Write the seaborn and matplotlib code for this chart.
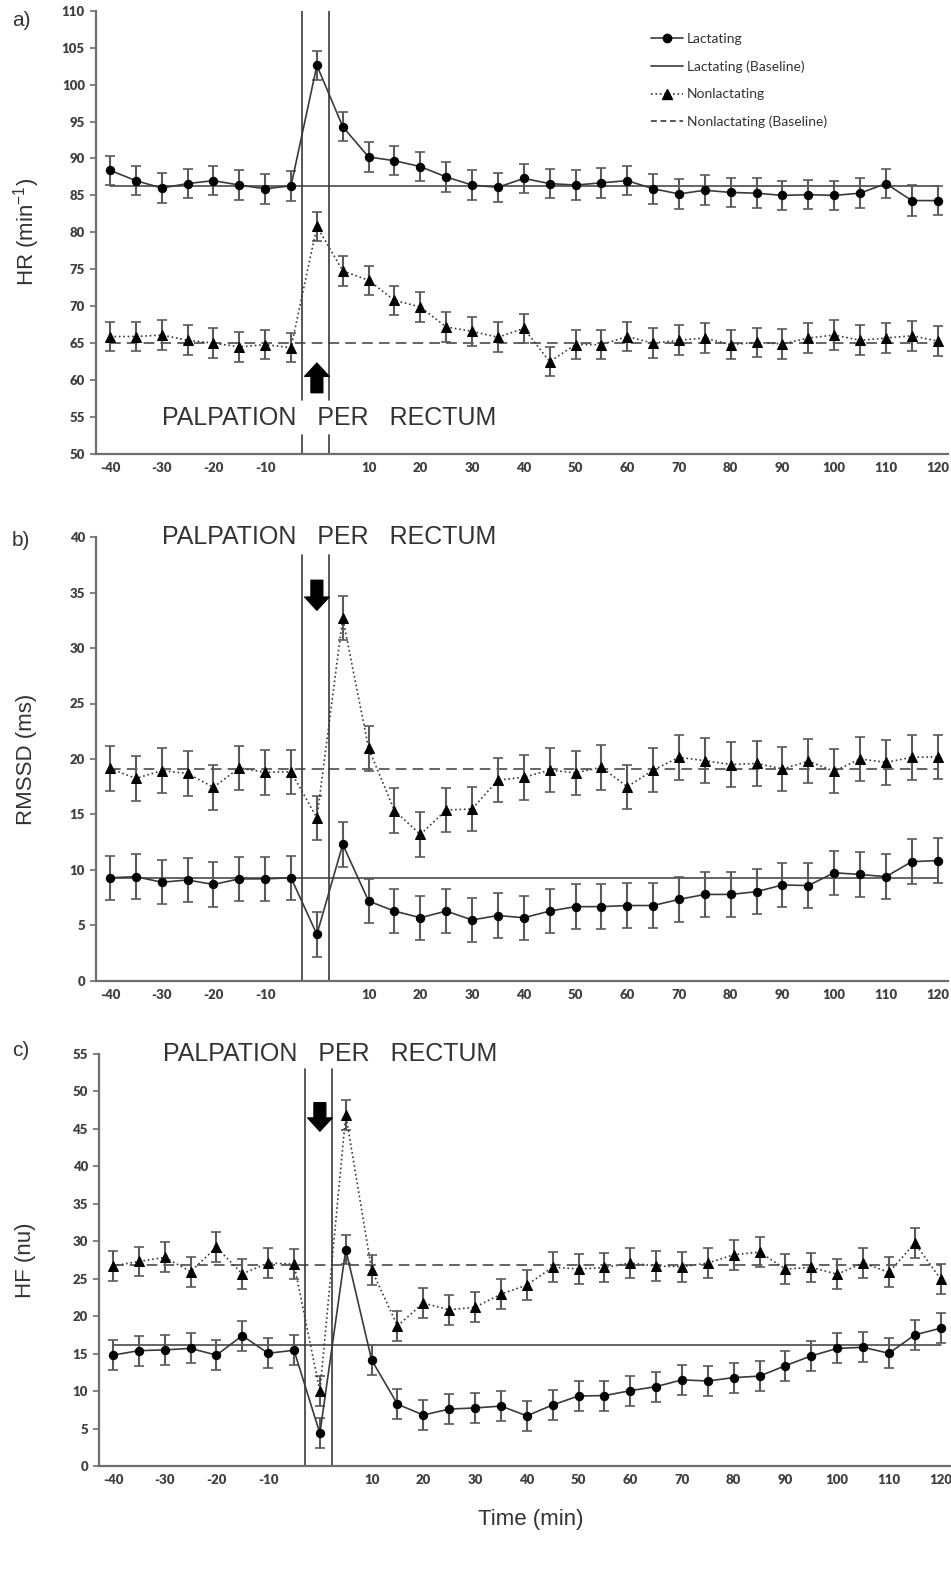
import numpy as np
import pandas as pd
import seaborn as sns
import matplotlib
matplotlib.use("Agg")
import matplotlib.pyplot as plt
from matplotlib.lines import Line2D

# ---------------- data ----------------
time = [-40, -35, -30, -25, -20, -15, -10, -5, 0, 5, 10, 15, 20, 25, 30, 35, 40,
        45, 50, 55, 60, 65, 70, 75, 80, 85, 90, 95, 100, 105, 110, 115, 120]
xtick_values = [-40, -30, -20, -10, 10, 20, 30, 40, 50, 60, 70, 80, 90, 100, 110, 120]

hr_lact = [88.4, 87.0, 86.0, 86.6, 87.0, 86.4, 85.9, 86.3, 102.6, 94.3, 90.2, 89.7, 88.9,
           87.5, 86.4, 86.1, 87.3, 86.6, 86.4, 86.7, 87.0, 85.9, 85.2, 85.7, 85.4, 85.3,
           85.0, 85.1, 85.0, 85.3, 86.6, 84.3, 84.3]
hr_lact_se = [2.0, 2.0, 2.0, 2.0, 2.0, 2.0, 2.0, 2.0, 2.0, 2.0, 2.0, 2.0, 2.0, 2.0, 2.0, 2.0, 2.0,
              2.0, 2.0, 2.0, 2.0, 2.0, 2.0, 2.0, 2.0, 2.0, 2.0, 2.0, 2.0, 2.0, 2.0, 2.1, 2.0]
hr_non = [65.9, 65.9, 66.1, 65.4, 65.0, 64.5, 64.8, 64.4, 80.8, 74.8, 73.5, 70.8, 69.9,
          67.2, 66.6, 65.8, 67.0, 62.5, 64.8, 64.8, 65.9, 65.0, 65.4, 65.7, 64.8, 65.1,
          64.9, 65.7, 66.1, 65.4, 65.7, 66.0, 65.3]
hr_non_se = [2.0, 2.0, 2.0, 2.0, 2.0, 2.0, 2.0, 2.0, 2.0, 2.0, 2.0, 2.0, 2.0, 2.0, 2.0, 2.0, 2.0,
             2.0, 2.0, 2.0, 2.0, 2.0, 2.0, 2.0, 2.0, 2.0, 2.0, 2.0, 2.0, 2.0, 2.0, 2.0, 2.0]
hr_lact_base = 86.3
hr_non_base = 65.0

rmssd_lact = [9.3, 9.4, 8.9, 9.1, 8.7, 9.2, 9.2, 9.3, 4.2, 12.3, 7.2, 6.3, 5.7, 6.3, 5.5,
              5.9, 5.7, 6.3, 6.7, 6.7, 6.8, 6.8, 7.35, 7.8, 7.8, 8.05, 8.65, 8.6, 9.75, 9.6,
              9.4, 10.75, 10.85]
rmssd_lact_se = [2.0, 2.0, 2.0, 2.0, 2.0, 2.0, 2.0, 2.0, 2.0, 2.0, 2.0, 2.0, 2.0, 2.0, 2.0, 2.0, 2.0,
                 2.0, 2.0, 2.0, 2.0, 2.0, 2.0, 2.0, 2.0, 2.0, 2.0, 2.0, 2.0, 2.0, 2.0, 2.0, 2.0]
rmssd_non = [19.15, 18.25, 18.95, 18.7, 17.45, 19.2, 18.8, 18.85, 14.7, 32.7, 20.95, 15.35,
             13.2, 15.4, 15.5, 18.1, 18.35, 19.0, 18.75, 19.25, 17.5, 19.0, 20.15, 19.85,
             19.5, 19.6, 19.1, 19.8, 18.9, 20.0, 19.7, 20.15, 20.2]
rmssd_non_se = [2.0, 2.0, 2.0, 2.0, 2.0, 2.0, 2.0, 2.0, 2.0, 2.0, 2.0, 2.0, 2.0, 2.0, 2.0, 2.0, 2.0,
                2.0, 2.0, 2.0, 2.0, 2.0, 2.0, 2.0, 2.0, 2.0, 2.0, 2.0, 2.0, 2.0, 2.0, 2.0, 2.0]
rmssd_lact_base = 9.3
rmssd_non_base = 19.1

hf_lact = [14.8, 15.4, 15.5, 15.7, 14.8, 17.4, 15.05, 15.45, 4.35, 28.9, 14.15, 8.25, 6.8,
           7.6, 7.75, 8.0, 6.7, 8.15, 9.35, 9.4, 10.05, 10.6, 11.5, 11.35, 11.8, 12.0, 13.4,
           14.7, 15.7, 15.85, 15.05, 17.5, 18.4]
hf_lact_se = [2.0, 2.0, 2.0, 2.0, 2.0, 2.0, 2.0, 2.0, 2.0, 2.0, 2.0, 2.0, 2.0, 2.0, 2.0, 2.0, 2.0,
              2.0, 2.0, 2.0, 2.0, 2.0, 2.0, 2.0, 2.0, 2.0, 2.0, 2.0, 2.0, 2.0, 2.0, 2.0, 2.0]
hf_non = [26.7, 27.3, 27.85, 25.95, 29.2, 25.65, 27.1, 26.95, 10.0, 46.9, 26.2, 18.7, 21.75,
          20.85, 21.2, 22.95, 24.15, 26.55, 26.3, 26.5, 27.1, 26.7, 26.6, 27.1, 28.2, 28.55,
          26.3, 26.5, 25.6, 27.1, 25.85, 29.75, 24.95]
hf_non_se = [2.0, 2.0, 2.0, 2.0, 2.0, 2.0, 2.0, 2.0, 2.0, 2.0, 2.0, 2.0, 2.0, 2.0, 2.0, 2.0, 2.0,
             2.0, 2.0, 2.0, 2.0, 2.0, 2.0, 2.0, 2.0, 2.0, 2.0, 2.0, 2.0, 2.0, 2.0, 2.0, 2.0]
hf_lact_base = 16.1
hf_non_base = 26.8

panel_letters = ["a)", "b)", "c)"]
ylabels = ["HR (min$^{-1}$)", "RMSSD (ms)", "HF (nu)"]
event_text = "PALPATION   PER   RECTUM"
legend_labels = ["Lactating", "Lactating (Baseline)", "Nonlactating", "Nonlactating (Baseline)"]
xlabel_text = "Time (min)"

# ---------------- style ----------------
sns.set_style("white")
plt.rcParams["font.family"] = ["Liberation Sans", "DejaVu Sans"]
plt.rcParams["mathtext.fontset"] = "custom"
plt.rcParams["mathtext.rm"] = "Liberation Sans"
plt.rcParams["mathtext.it"] = "Liberation Sans"

W, H = 951, 1583
fig = plt.figure(figsize=(W / 100, H / 100), dpi=100)

def frac_box(left, right, top, bottom):
    return [left / W, 1 - bottom / H, (right - left) / W, (bottom - top) / H]

boxes = [frac_box(96, 948, 10.7, 454), frac_box(96, 948, 537, 981), frac_box(99, 951, 1054, 1466)]
ylims = [(50, 110), (0, 40), (0, 55)]
ysteps = [5, 5, 5]
ylabel_x = [-0.063, -0.069, -0.074]

series = [
    (hr_lact, hr_lact_se, hr_non, hr_non_se, hr_lact_base, hr_non_base),
    (rmssd_lact, rmssd_lact_se, rmssd_non, rmssd_non_se, rmssd_lact_base, rmssd_non_base),
    (hf_lact, hf_lact_se, hf_non, hf_non_se, hf_lact_base, hf_non_base),
]

line_col = "#3a3a3a"
err_col = "#5a5a5a"
spine_col = "#6e6e6e"
tick_family = ["Lato", "DejaVu Sans"]

axes = []
for i in range(3):
    ax = fig.add_axes(boxes[i])
    axes.append(ax)
    lact, lact_se, non, non_se, lbase, nbase = series[i]
    df = pd.DataFrame({"time": time, "lact": lact, "non": non})

    # baselines
    ax.plot([time[0], time[-1]], [lbase, lbase], color=line_col, lw=1.1, ls="-", zorder=1)
    ax.plot([time[0], time[-1]], [nbase, nbase], color=line_col, lw=1.1, ls=(0, (7, 4)), zorder=1)

    # error bars
    ax.errorbar(time, lact, yerr=lact_se, fmt="none", ecolor=err_col, elinewidth=1.5,
                capsize=3.5, capthick=1.2, zorder=2)
    ax.errorbar(time, non, yerr=non_se, fmt="none", ecolor=err_col, elinewidth=1.5,
                capsize=3.5, capthick=1.2, zorder=2)

    # series
    sns.lineplot(data=df, x="time", y="lact", ax=ax, color=line_col, lw=1.2,
                 marker="o", markersize=6, markerfacecolor="black", markeredgecolor="black",
                 zorder=3)
    sns.lineplot(data=df, x="time", y="non", ax=ax, color=line_col, lw=1.2, ls=":",
                 marker="^", markersize=6.5, markerfacecolor="black", markeredgecolor="black",
                 zorder=3)

    ax.set_xlim(-42.7, 122)
    ax.set_ylim(*ylims[i])
    ax.set_xticks(xtick_values)
    ax.set_xticklabels([str(v) for v in xtick_values])
    yt = np.arange(ylims[i][0], ylims[i][1] + 0.1, ysteps[i])
    ax.set_yticks(yt)
    ax.set_yticklabels([str(int(v)) for v in yt])
    for lab in ax.get_xticklabels() + ax.get_yticklabels():
        lab.set_fontfamily(tick_family)
        lab.set_fontweight("heavy")
        lab.set_fontsize(9.5)
        lab.set_color("#404040")
    ax.tick_params(axis="x", length=0, pad=6)
    ax.tick_params(axis="y", length=4, width=1.2, color=spine_col, pad=4, left=True)
    for s in ["top", "right"]:
        ax.spines[s].set_visible(False)
    for s in ["left", "bottom"]:
        ax.spines[s].set_color(spine_col)
        ax.spines[s].set_linewidth(1.6)
    ax.set_xlabel("")
    ax.set_ylabel(ylabels[i], fontsize=16, color="#333333")
    ax.yaxis.set_label_coords(ylabel_x[i], 0.5)

    fig.text(12 / W, 1 - [20, 540, 1050][i] / H, panel_letters[i], fontsize=15,
             color="#333333", va="center", ha="left")

# event markers, text and arrows
vx = [-2.8, 2.3]
astyle = "simple,head_width=1.75,head_length=0.95,tail_width=0.85"
ax = axes[0]
for x in vx:
    ax.plot([x, x], [57.3, 110], color=line_col, lw=1.2, zorder=1)
    ax.plot([x, x], [50, 52.6], color=line_col, lw=1.2, zorder=1)
ax.text(2.3, 54.9, event_text, fontsize=18, color="#333333", ha="center", va="center")
ax.annotate("", xy=(0, 62.3), xytext=(0, 58.3),
            arrowprops=dict(arrowstyle=astyle, color="black", shrinkA=0, shrinkB=0,
                            mutation_scale=10))

ax = axes[1]
for x in vx:
    ax.plot([x, x], [0, 38.4], color=line_col, lw=1.2, zorder=1)
ax.text(2.3, 40, event_text, fontsize=18, color="#333333", ha="center", va="center",
        clip_on=False)
ax.annotate("", xy=(0, 33.4), xytext=(0, 36.1),
            arrowprops=dict(arrowstyle=astyle, color="black", shrinkA=0, shrinkB=0,
                            mutation_scale=10))

ax = axes[2]
for x in vx:
    ax.plot([x, x], [0, 53.0], color=line_col, lw=1.2, zorder=1)
ax.text(1.9, 55, event_text, fontsize=18, color="#333333", ha="center", va="center",
        clip_on=False)
ax.annotate("", xy=(0, 44.7), xytext=(0, 48.5),
            arrowprops=dict(arrowstyle=astyle, color="black", shrinkA=0, shrinkB=0,
                            mutation_scale=10))

# legend on panel a
handles = [
    Line2D([], [], color=line_col, lw=1.2, marker="o", markersize=6, markerfacecolor="black",
           markeredgecolor="black"),
    Line2D([], [], color=line_col, lw=1.2),
    Line2D([], [], color=line_col, lw=1.2, ls=":", marker="^", markersize=6.5,
           markerfacecolor="black", markeredgecolor="black"),
    Line2D([], [], color=line_col, lw=1.2, ls=(0, (3.5, 2.2))),
]
leg = axes[0].legend(handles, legend_labels, loc="upper left",
                     bbox_to_anchor=((651 - 96) / 852, 1 - (33 - 10.7) / 443.3),
                     frameon=False, borderpad=0, borderaxespad=0, handlelength=2.3,
                     handletextpad=0.3, labelspacing=1.11,
                     prop=dict(family=["Lato", "DejaVu Sans"], size=10))
for t in leg.get_texts():
    t.set_color("#333333")

fig.text(531 / W, 1 - 1519 / H, xlabel_text, fontsize=16, color="#333333",
         ha="center", va="center")

fig.savefig("out.png", dpi=100)
